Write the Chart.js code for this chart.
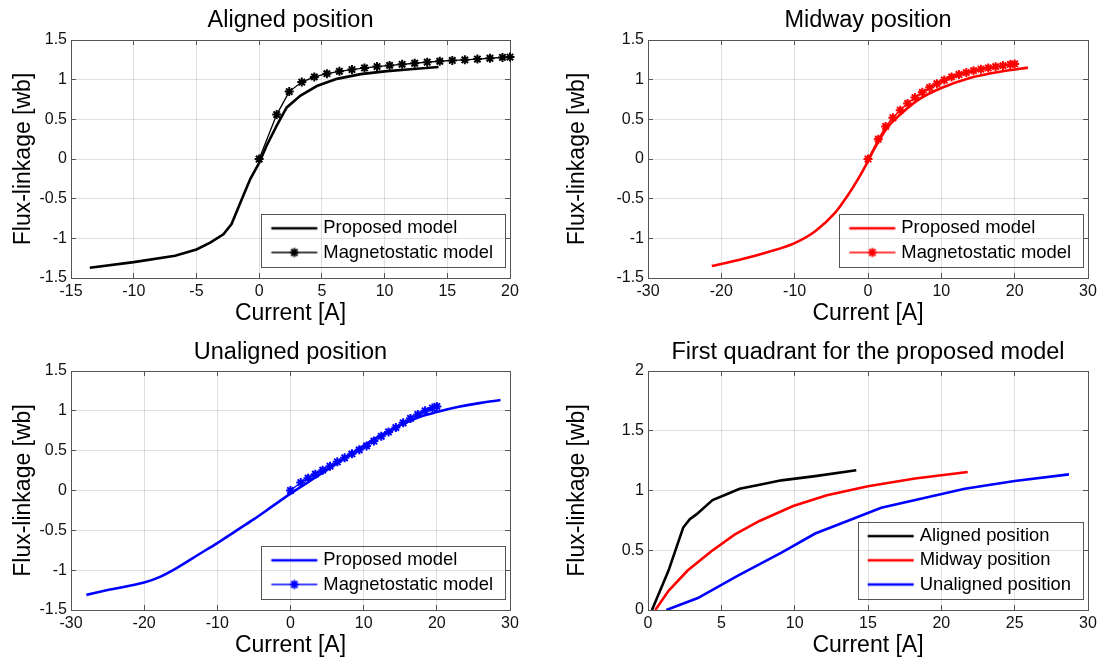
<!DOCTYPE html>
<html>
<head>
<meta charset="utf-8">
<script src="https://cdn.jsdelivr.net/npm/chart.js@4.4.1/dist/chart.umd.min.js"></script>
<style>
  body { margin: 0; background: #fff; }
  #wrap { position: relative; width: 1108px; height: 664px; }
  canvas { position: absolute; }
</style>
</head>
<body>
<div id="wrap">
  <canvas id="aligned" width="554" height="332" style="left:0;top:0"></canvas>
  <canvas id="midway" width="554" height="332" style="left:554px;top:0"></canvas>
  <canvas id="unaligned" width="554" height="332" style="left:0;top:332px"></canvas>
  <canvas id="quadrant" width="554" height="332" style="left:554px;top:332px"></canvas>
</div>
<script>
// Aligned position
const alignedPropI = [-13.5, -10, -6.7, -5, -3.9, -2.85, -2.2, -1.5, -0.7, 0, 0.6, 1.4, 2.2, 3.3, 4.6, 6.2, 8.1, 10, 12.3, 14.3];
const alignedPropPsi = [-1.37, -1.30, -1.22, -1.14, -1.055, -0.95, -0.82, -0.55, -0.25, -0.05, 0.17, 0.42, 0.65, 0.80, 0.92, 1.01, 1.07, 1.105, 1.135, 1.16];
const magI = [0, 1.4, 2.4, 3.4, 4.4, 5.4, 6.4, 7.4, 8.4, 9.4, 10.4, 11.4, 12.4, 13.4, 14.4, 15.4, 16.4, 17.4, 18.4, 19.4, 20];
const alignedMagPsi = [0, 0.56, 0.85, 0.97, 1.035, 1.075, 1.105, 1.127, 1.148, 1.165, 1.18, 1.194, 1.207, 1.22, 1.232, 1.242, 1.25, 1.26, 1.27, 1.28, 1.285];

// Midway position
const midwayPropI = [-21.3, -17.5, -13.5, -10, -7.2, -4.5, -2.7, -1.4, -0.3, 0.7, 2.5, 4.4, 7.1, 10, 14, 18.6, 21.8];
const midwayPropPsi = [-1.35, -1.27, -1.17, -1.06, -0.91, -0.68, -0.45, -0.26, -0.08, 0.10, 0.38, 0.56, 0.76, 0.895, 1.025, 1.11, 1.152];
const midwayMagPsi = [0, 0.25, 0.41, 0.52, 0.615, 0.70, 0.775, 0.84, 0.90, 0.95, 0.995, 1.035, 1.065, 1.09, 1.113, 1.132, 1.148, 1.163, 1.177, 1.192, 1.198];

// Unaligned position
const unalignedPropI = [-27.9, -25, -20, -18, -15.5, -12.5, -10, -7.5, -5, -2.5, 0, 2.5, 5, 7.5, 10, 12.5, 15, 17.5, 20, 23, 26, 28.7];
const unalignedPropPsi = [-1.31, -1.25, -1.155, -1.09, -0.97, -0.80, -0.66, -0.51, -0.36, -0.20, -0.04, 0.11, 0.26, 0.41, 0.565, 0.70, 0.82, 0.92, 0.985, 1.05, 1.10, 1.135];
const unalignedMagPsi = [0, 0.10, 0.155, 0.205, 0.255, 0.305, 0.36, 0.41, 0.46, 0.51, 0.56, 0.62, 0.68, 0.735, 0.79, 0.85, 0.905, 0.955, 1.0, 1.035, 1.055];

// First quadrant for the proposed model
const quadAlignedI = [0.27, 1.4, 2.4, 2.85, 3.3, 4.4, 5.2, 6.25, 7.7, 9.1, 11.4, 14.2];
const quadAlignedPsi = [0, 0.33, 0.69, 0.76, 0.80, 0.92, 0.96, 1.015, 1.05, 1.085, 1.12, 1.17];
const quadMidwayI = [0.5, 1.4, 2.7, 4.3, 5.9, 7.6, 9.9, 12.2, 15, 18.2, 21.8];
const quadMidwayPsi = [0, 0.16, 0.33, 0.49, 0.63, 0.745, 0.87, 0.96, 1.035, 1.10, 1.155];
const quadUnalignedI = [1.25, 3.4, 6.1, 9.1, 11.4, 13.9, 15.9, 18, 21.6, 25, 28.7];
const quadUnalignedPsi = [0, 0.10, 0.285, 0.48, 0.64, 0.76, 0.855, 0.915, 1.015, 1.08, 1.135];

const FONT = "'Liberation Sans', Arial, sans-serif";
const BOX = '#555';
const GRID = 'rgba(0,0,0,0.12)';

function pts(xs, ys) {
    return xs.map((x, i) => ({ x: x, y: ys[i] }));
}

// little line (+ asterisk) picture used as legend symbol
function legendGlyph(color, width, marker) {
    const c = document.createElement('canvas');
    c.width = 60; c.height = 18;
    const g = c.getContext('2d');
    g.strokeStyle = color;
    g.lineWidth = width;
    g.beginPath(); g.moveTo(10.7, 9); g.lineTo(56.7, 9); g.stroke();
    if (marker) {
        const r = 4.5, cx = 33.7, cy = 9, d = r * Math.SQRT1_2;
        g.lineWidth = 2;
        g.beginPath();
        g.moveTo(cx - r, cy); g.lineTo(cx + r, cy);
        g.moveTo(cx, cy - r); g.lineTo(cx, cy + r);
        g.moveTo(cx - d, cy - d); g.lineTo(cx + d, cy + d);
        g.moveTo(cx - d, cy + d); g.lineTo(cx + d, cy - d);
        g.stroke();
    }
    return c;
}

// put the legend in the lower right corner of the plot, with a frame
const insideLegend = {
    id: 'insideLegend',
    afterLayout(chart, args, opts) {
        const lg = chart.legend, ca = chart.chartArea;
        if (!lg || !lg.legendHitBoxes || !lg.legendHitBoxes.length) return;
        const p = lg.options.labels.padding;
        const fs = lg.options.labels.font.size;
        const n = lg.legendItems.length;
        const widest = Math.max(...lg.legendHitBoxes.map(h => h.width));
        const w = p + widest + 12;
        const h = 28.5 + (n - 1) * (fs + p);
        const right = ca.right - opts.right;
        const bottom = ca.bottom - opts.bottom;
        lg.left = right - w;
        lg.right = right;
        lg.width = w;
        lg.top = bottom - h - 1;
        lg.bottom = lg.top + p + n * (fs + p) + 2;
        lg.height = lg.bottom - lg.top;
        lg.frame = { x: right - w, y: bottom - h, w: w, h: h };
    },
    afterDraw(chart) {
        const f = chart.legend && chart.legend.frame;
        if (!f) return;
        const ctx = chart.ctx;
        ctx.save();
        ctx.strokeStyle = BOX;
        ctx.lineWidth = 1;
        ctx.strokeRect(Math.round(f.x) + 0.5, Math.round(f.y) + 0.5, Math.round(f.w), Math.round(f.h));
        ctx.restore();
    }
};

function proposed(label, xs, ys, color, smooth) {
    return {
        label: label, data: pts(xs, ys), borderColor: color, backgroundColor: color,
        borderWidth: 2.6, pointRadius: 0, fill: false,
        tension: 0, cubicInterpolationMode: smooth ? 'monotone' : 'default'
    };
}

function magnetostatic(xs, ys, color) {
    return {
        label: 'Magnetostatic model', data: pts(xs, ys), borderColor: color, backgroundColor: color,
        borderWidth: 1.3, pointStyle: 'star', pointRadius: 4.5, pointBorderWidth: 2,
        pointBorderColor: color, fill: false, tension: 0, clip: false
    };
}

function makeChart(id, o) {
    const tickFont = { family: FONT, size: 16 };
    const labelFont = { family: FONT, size: 23 };
    new Chart(document.getElementById(id), {
        type: 'line',
        data: { datasets: o.datasets },
        options: {
            responsive: false,
            animation: false,
            events: [],
            layout: { padding: { left: 0, right: o.padRight, top: 0, bottom: 0 } },
            plugins: {
                title: {
                    display: true, text: o.title, color: '#000', fullSize: false,
                    font: { family: FONT, size: 23.5, weight: 'normal' },
                    padding: { top: 6, bottom: o.top - 6 - 28.2 }
                },
                legend: {
                    position: 'chartArea', align: 'start',
                    labels: {
                        usePointStyle: true, pointStyleWidth: 47, padding: 5.8, color: '#000',
                        font: { family: FONT, size: 18.4 },
                        generateLabels: chart => chart.data.datasets.map((ds, i) => ({
                            text: ds.label, datasetIndex: i, hidden: false, lineWidth: 0,
                            fillStyle: ds.borderColor, strokeStyle: ds.borderColor, fontColor: '#000',
                            pointStyle: legendGlyph(ds.borderColor, ds.borderWidth, ds.pointRadius > 0)
                        }))
                    }
                },
                tooltip: { enabled: false },
                insideLegend: { right: 5, bottom: 11 }
            },
            scales: {
                x: {
                    type: 'linear', position: 'bottom', min: o.xMin, max: o.xMax,
                    afterFit: s => { s.height = 54; },
                    grid: { color: GRID, tickLength: -5, tickColor: BOX },
                    border: { color: BOX, width: 1 },
                    ticks: {
                        stepSize: o.xStep, padding: 9, maxRotation: 0, autoSkip: false,
                        color: '#111', font: tickFont, callback: v => String(v)
                    },
                    title: {
                        display: true, text: 'Current [A]', color: '#000', font: labelFont,
                        padding: { top: 0, bottom: 5 }
                    }
                },
                y: {
                    type: 'linear', position: 'left', min: o.yMin, max: o.yMax,
                    afterFit: s => { s.width = o.left; },
                    grid: { color: GRID, tickLength: -5, tickColor: BOX },
                    border: { color: BOX, width: 1 },
                    ticks: {
                        stepSize: 0.5, padding: 9, autoSkip: false,
                        color: '#111', font: tickFont, callback: v => String(v)
                    },
                    title: {
                        display: true, text: 'Flux-linkage [wb]', color: '#000', font: labelFont,
                        padding: { top: 10, bottom: 0 }
                    }
                },
                xTop: {
                    type: 'linear', position: 'top', min: o.xMin, max: o.xMax,
                    afterFit: s => { s.height = 0; },
                    grid: { drawOnChartArea: false, tickLength: -5, tickColor: BOX },
                    border: { color: BOX, width: 1 },
                    ticks: { display: false, stepSize: o.xStep }
                },
                yRight: {
                    type: 'linear', position: 'right', min: o.yMin, max: o.yMax,
                    afterFit: s => { s.width = 0; },
                    grid: { drawOnChartArea: false, tickLength: -5, tickColor: BOX },
                    border: { color: BOX, width: 1 },
                    ticks: { display: false, stepSize: 0.5 }
                }
            }
        },
        plugins: [insideLegend]
    });
}

makeChart('aligned', {
    title: 'Aligned position', left: 71, padRight: 44, top: 40,
    xMin: -15, xMax: 20, xStep: 5, yMin: -1.5, yMax: 1.5,
    datasets: [
        proposed('Proposed model', alignedPropI, alignedPropPsi, '#000000', false),
        magnetostatic(magI, alignedMagPsi, '#000000')
    ]
});

makeChart('midway', {
    title: 'Midway position', left: 94, padRight: 20, top: 40,
    xMin: -30, xMax: 30, xStep: 10, yMin: -1.5, yMax: 1.5,
    datasets: [
        proposed('Proposed model', midwayPropI, midwayPropPsi, '#ff0000', true),
        magnetostatic(magI, midwayMagPsi, '#ff0000')
    ]
});

makeChart('unaligned', {
    title: 'Unaligned position', left: 71, padRight: 44, top: 39,
    xMin: -30, xMax: 30, xStep: 10, yMin: -1.5, yMax: 1.5,
    datasets: [
        proposed('Proposed model', unalignedPropI, unalignedPropPsi, '#0000ff', true),
        magnetostatic(magI, unalignedMagPsi, '#0000ff')
    ]
});

makeChart('quadrant', {
    title: 'First quadrant for the proposed model', left: 94, padRight: 20, top: 39,
    xMin: 0, xMax: 30, xStep: 5, yMin: 0, yMax: 2,
    datasets: [
        proposed('Aligned position', quadAlignedI, quadAlignedPsi, '#000000', false),
        proposed('Midway position', quadMidwayI, quadMidwayPsi, '#ff0000', false),
        proposed('Unaligned position', quadUnalignedI, quadUnalignedPsi, '#0000ff', false)
    ]
});
</script>
</body>
</html>
